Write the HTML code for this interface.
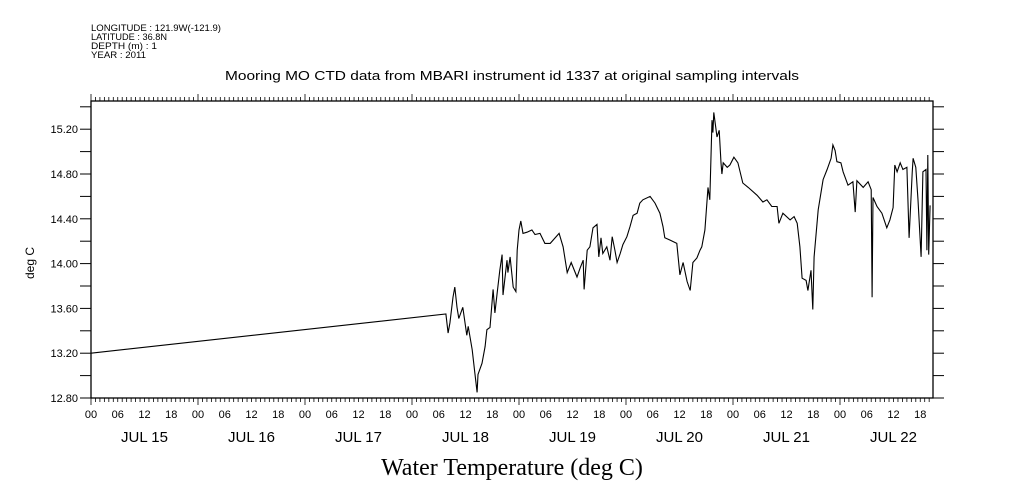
<!DOCTYPE html>
<html><head><meta charset="utf-8">
<style>
html,body{margin:0;padding:0;background:#fff;}
svg{display:block;font-family:"Liberation Sans",sans-serif;}
</style></head>
<body>
<svg id="chart" width="1009" height="504" viewBox="0 0 1009 504" xmlns="http://www.w3.org/2000/svg">
<g font-size="9" fill="#000">
<text x="91" y="31" textLength="130" lengthAdjust="spacingAndGlyphs">LONGITUDE : 121.9W(-121.9)</text>
<text x="91" y="40" textLength="76" lengthAdjust="spacingAndGlyphs">LATITUDE : 36.8N</text>
<text x="91" y="49" textLength="66" lengthAdjust="spacingAndGlyphs">DEPTH (m) : 1</text>
<text x="91" y="58" textLength="55" lengthAdjust="spacingAndGlyphs">YEAR : 2011</text>
</g>
<text x="512" y="80" text-anchor="middle" font-size="12.5" textLength="574" lengthAdjust="spacingAndGlyphs">Mooring MO CTD data from MBARI instrument id 1337 at original sampling intervals</text>
<text x="512" y="475" text-anchor="middle" font-size="24" font-family="Liberation Serif, serif">Water Temperature (deg C)</text>
<text transform="translate(34,263) rotate(-90)" text-anchor="middle" font-size="12">deg C</text>
<g id="axes"></g>
<g id="series"></g>
</svg>
<script>
const hours = [0,79.6,80.1,80.5,81.2,81.6,82.1,82.5,83.4,84.3,84.6,85.5,86.1,86.6,86.8,87.7,88.4,88.8,89.5,90.2,90.6,91.1,91.7,92.2,92.4,93.3,93.5,94.0,94.7,95.3,95.6,96.0,96.4,96.9,97.8,98.9,99.6,100.7,101.8,103.0,105.0,105.9,106.8,107.7,109.0,109.7,110.4,110.6,111.3,111.9,112.6,113.5,113.9,114.4,114.8,115.7,116.4,116.9,117.5,118.0,118.7,119.3,120.2,120.9,121.6,122.5,123.1,123.8,125.4,126.5,127.6,128.3,128.7,129.9,131.4,132.1,132.8,133.7,134.4,135.0,135.9,136.6,137.0,137.7,138.4,138.8,139.3,139.5,139.7,140.4,140.9,141.3,141.5,141.8,142.7,143.3,144.2,145.1,146.2,147.4,149.4,150.7,151.6,152.7,153.9,154.3,155.2,156.8,157.7,158.4,159.0,159.5,160.4,160.8,161.5,161.9,162.2,163.1,164.2,165.1,166.0,166.4,166.9,167.3,168.2,168.7,169.8,170.9,171.4,171.8,173.2,174.3,175.0,175.2,175.4,176.3,177.4,178.5,179.2,179.9,180.3,180.8,181.5,182.1,183.0,183.5,184.2,184.4,185.0,185.5,186.2,186.6,187.3,187.5,187.7,187.9,188.2];
const temps = [13.20,13.55,13.38,13.47,13.70,13.79,13.61,13.51,13.61,13.36,13.44,13.23,13.02,12.85,13.01,13.11,13.26,13.41,13.43,13.77,13.56,13.74,13.94,14.08,13.72,14.03,13.92,14.06,13.79,13.75,14.12,14.30,14.38,14.27,14.28,14.30,14.26,14.27,14.18,14.18,14.27,14.15,13.92,14.01,13.88,13.96,14.03,13.77,14.12,14.15,14.32,14.35,14.06,14.23,14.09,14.15,14.03,14.24,14.12,14.01,14.09,14.17,14.24,14.33,14.43,14.45,14.54,14.57,14.60,14.54,14.45,14.33,14.23,14.21,14.18,13.90,14.01,13.84,13.76,14.01,14.05,14.12,14.15,14.30,14.68,14.57,15.28,15.17,15.35,15.13,15.19,14.90,14.80,14.90,14.86,14.88,14.95,14.90,14.72,14.68,14.61,14.55,14.57,14.51,14.51,14.36,14.45,14.39,14.42,14.36,14.15,13.87,13.85,13.76,13.94,13.59,14.06,14.48,14.75,14.84,14.94,15.06,15.01,14.91,14.90,14.82,14.70,14.73,14.46,14.74,14.68,14.73,14.66,13.70,14.59,14.51,14.45,14.32,14.39,14.50,14.88,14.82,14.90,14.84,14.86,14.23,14.81,14.94,14.86,14.57,14.06,14.82,14.84,14.12,14.97,14.08,14.52];
const yTickLabels = ["12.80","13.20","13.60","14.00","14.40","14.80","15.20"];
const dayLabels = ["JUL 15","JUL 16","JUL 17","JUL 18","JUL 19","JUL 20","JUL 21","JUL 22"];
const hourLabels = ["00","06","12","18"];

const NS="http://www.w3.org/2000/svg";
const L=91,R=933,T=101,B=398;
const xScale=h=>L+h*107/24;
const yScale=v=>B-(v-12.8)*112;
const axes=document.getElementById('axes'), series=document.getElementById('series');
function mk(tag,attrs,parent){const e=document.createElementNS(NS,tag);for(const k in attrs)e.setAttribute(k,attrs[k]);parent.appendChild(e);return e;}

const frame=mk('rect',{x:L,y:T,width:R-L,height:B-T,fill:'none',stroke:'#000','stroke-width':1.3},axes);



for(let i=0;i<=13;i++){
  const v=12.8+i*0.2; const y=yScale(v); if(y<T-1) break;
  const t1=mk('line',{x1:L-11,x2:L,y1:y,y2:y,stroke:'#000'},axes);
  
  
  const t2=mk('line',{x1:R,x2:R+11,y1:y,y2:y,stroke:'#000'},axes);
  
  
}
yTickLabels.forEach(s=>{
  const t=mk('text',{x:L-13,y:yScale(parseFloat(s))+4,'text-anchor':'end','font-size':11},axes);
  t.textContent=s;
  
  
});
const maxH=(R-L)*24/107;
for(let h=0;h<=maxH;h++){
  const x=xScale(h); const big=h%24===0;
  const tb=mk('line',{x1:x,x2:x,y1:B,y2:B+(big?7:4),stroke:'#000','stroke-width':0.8},axes);
  
  
  const tt=mk('line',{x1:x,x2:x,y1:T,y2:T-(big?7:4),stroke:'#000','stroke-width':0.8},axes);
  
  
  if(h%6===0){
    const lab=mk('text',{x:x,y:B+20,'text-anchor':'middle','font-size':11},axes);
    lab.textContent=hourLabels[(h%24)/6];
    
    
  }
}
dayLabels.forEach((d,i)=>{
  const t=mk('text',{x:xScale(i*24+12),y:B+44,'text-anchor':'middle','font-size':15},axes);
  t.textContent=d;
  
  
});
const pts=hours.map((h,i)=>xScale(h).toFixed(1)+','+yScale(temps[i]).toFixed(1)).join(' ');
const line=mk('polyline',{points:pts,fill:'none',stroke:'#000','stroke-width':1.1},series);


</script>
</body></html>
